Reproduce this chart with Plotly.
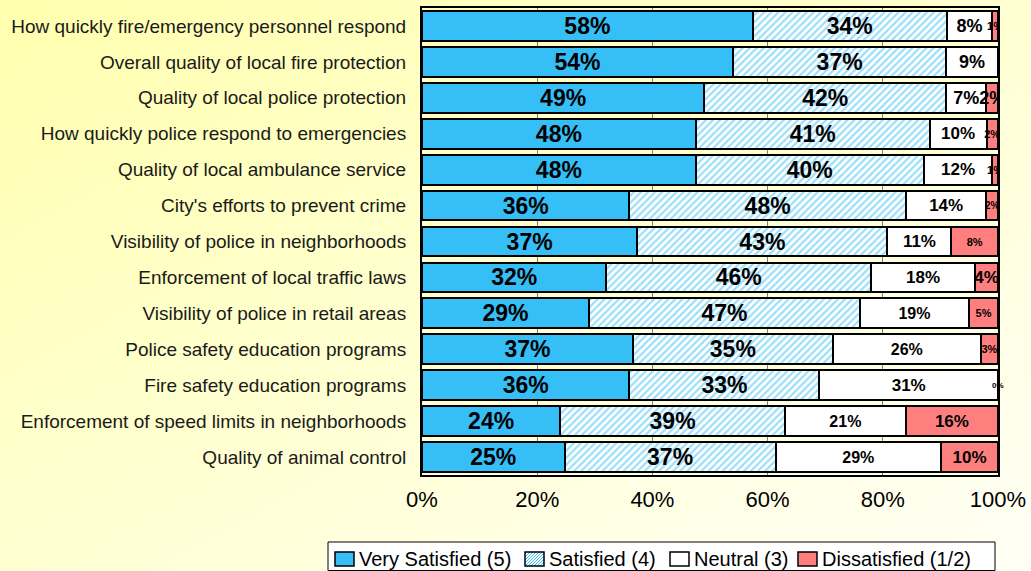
import plotly.graph_objects as go
import urllib.parse

categories = [
    "How quickly fire/emergency personnel respond",
    "Overall quality of local fire protection",
    "Quality of local police protection",
    "How quickly police respond to emergencies",
    "Quality of local ambulance service",
    "City's efforts to prevent crime",
    "Visibility of police in neighborhoods",
    "Enforcement of local traffic laws",
    "Visibility of police in retail areas",
    "Police safety education programs",
    "Fire safety education programs",
    "Enforcement of speed limits in neighborhoods",
    "Quality of animal control",
]
very_satisfied = [58, 54, 49, 48, 48, 36, 37, 32, 29, 37, 36, 24, 25]
satisfied = [34, 37, 42, 41, 40, 48, 43, 46, 47, 35, 33, 39, 37]
neutral = [8, 9, 7, 10, 12, 14, 11, 18, 19, 26, 31, 21, 29]
dissatisfied = [1, 0, 2, 2, 1, 2, 8, 4, 5, 3, 0, 16, 10]
show_dis_label = [True, False, True, True, True, True, True, True, True, True, True, True, True]
x_ticks = [0, 20, 40, 60, 80, 100]

totals = [a + b + c + d for a, b, c, d in zip(very_satisfied, satisfied, neutral, dissatisfied)]

def norm(vals):
    return [v / t * 100 for v, t in zip(vals, totals)]

FONT = "Arial, Liberation Sans, sans-serif"
BLUE = "#36BEF6"
RED = "#FF7F7F"

vs_size = [23] * 13
s_size = [23] * 13
n_size = [18, 18, 18, 17, 17, 17, 17, 17, 16, 16, 17, 16, 16]
d_size = [11, 11, 18, 11, 11, 10, 11, 17, 11, 11, 8, 17, 17]

series = [
    ("Very Satisfied (5)", very_satisfied, vs_size, dict(color=BLUE)),
    ("Satisfied (4)", satisfied, s_size, dict(color="white",
        pattern=dict(shape="/", fgcolor=BLUE, bgcolor="white", size=5, solidity=0.45))),
    ("Neutral (3)", neutral, n_size, dict(color="white")),
    ("Dissatisfied (1/2)", dissatisfied, d_size, dict(color=RED)),
]

fig = go.Figure()
for name, vals, sizes, marker in series:
    if name.startswith("Dissatisfied"):
        texts = [f"{v}%" if s else "" for v, s in zip(vals, show_dis_label)]
    else:
        texts = [f"{v}%" for v in vals]
    marker = dict(marker)
    marker["line"] = dict(color="black", width=2)
    fig.add_trace(go.Bar(
        name=name, y=categories, x=norm(vals), orientation="h",
        marker=marker, text=texts, textposition="inside", insidetextanchor="middle",
        textangle=0, constraintext="none",
        textfont=dict(family=FONT, size=sizes, color="black", weight="bold"),
        hoverinfo="skip", showlegend=False,
    ))

# labels for zero-width dissatisfied segments (drawn at the end of the stack)
for cat, v, s, sz in zip(categories, dissatisfied, show_dis_label, d_size):
    if v == 0 and s:
        fig.add_annotation(x=100, y=cat, xref="x", yref="y", text=f"{v}%", showarrow=False,
                           xanchor="center", font=dict(family=FONT, size=sz, color="black", weight="bold"))

W, H = 1031, 571
L, R, T, B = 422, 33, 8, 96
pw, ph = W - L - R, H - T - B

def px(xp):
    return (xp - L) / pw

def py(yp):
    return 1 - (yp - T) / ph

# custom legend
shapes = []
shapes.append(dict(type="rect", xref="paper", yref="paper", x0=px(328), x1=px(995), y0=py(542), y1=py(570.5),
                   line=dict(color="black", width=1), fillcolor="white", layer="above"))
legend_items = [
    ("Very Satisfied (5)", 335, 357, BLUE, False),
    ("Satisfied (4)", 525, 547, "white", True),
    ("Neutral (3)", 670, 692, "white", False),
    ("Dissatisfied (1/2)", 798, 820, RED, False),
]
sy0, sy1 = 552, 566
for label, sx, tx, col, hatch in legend_items:
    sx1 = sx + 19
    shapes.append(dict(type="rect", xref="paper", yref="paper", x0=px(sx), x1=px(sx1), y0=py(sy0), y1=py(sy1),
                       line=dict(width=0), fillcolor=col, layer="above"))
    if hatch:
        k = sx + sy0 + 2
        while k < sx1 + sy1:
            xa = max(sx, k - sy1)
            xb = min(sx1, k - sy0)
            if xb > xa:
                shapes.append(dict(type="line", xref="paper", yref="paper",
                                   x0=px(xa), y0=py(k - xa), x1=px(xb), y1=py(k - xb),
                                   line=dict(color=BLUE, width=1), layer="above"))
            k += 3
    shapes.append(dict(type="rect", xref="paper", yref="paper", x0=px(sx), x1=px(sx1), y0=py(sy0), y1=py(sy1),
                       line=dict(color="black", width=1.5), fillcolor="rgba(0,0,0,0)", layer="above"))
    fig.add_annotation(x=px(tx), y=py(559), xref="paper", yref="paper", text=label, showarrow=False,
                       xanchor="left", yanchor="middle", font=dict(family=FONT, size=20, color="black"))

svg = ("<svg xmlns='http://www.w3.org/2000/svg' width='100' height='100' preserveAspectRatio='none'>"
       "<defs><linearGradient id='g' x1='0' y1='0' x2='1' y2='1'>"
       "<stop offset='0' stop-color='#FFFFAE'/><stop offset='1' stop-color='#FFFFF6'/>"
       "</linearGradient></defs><rect width='100' height='100' fill='url(#g)'/></svg>")
src = "data:image/svg+xml;charset=utf-8," + urllib.parse.quote(svg)

fig.update_layout(
    width=W, height=H,
    margin=dict(l=L, r=R, t=T, b=B, autoexpand=False),
    barmode="stack", bargap=0.17,
    paper_bgcolor="#FFFFF0", plot_bgcolor="white",
    font=dict(family=FONT, color="black"),
    shapes=shapes,
    images=[dict(source=src, xref="paper", yref="paper",
                 x=-L / pw, y=1 + T / ph, sizex=W / pw, sizey=H / ph,
                 sizing="stretch", xanchor="left", yanchor="top", layer="below")],
    xaxis=dict(range=[0, 100], tickvals=x_ticks, ticktext=[f"{v}%" for v in x_ticks],
               tickfont=dict(size=22, color="black"), showgrid=True, gridcolor="#808080",
               gridwidth=1, zeroline=False, showline=True, linecolor="black", linewidth=2,
               mirror=True, ticks="", fixedrange=True, ticklabelstandoff=4),
    yaxis=dict(autorange="reversed", tickfont=dict(size=19, color="#1a1a1a"),
               showline=True, linecolor="black", linewidth=2, mirror=True,
               ticks="", ticklen=0, showgrid=False, fixedrange=True, ticklabelstandoff=10),
    showlegend=False,
)

fig.write_html("out.html", config={"displayModeBar": False},
               post_script="document.body.style.margin='0';document.body.style.overflow='hidden';")
